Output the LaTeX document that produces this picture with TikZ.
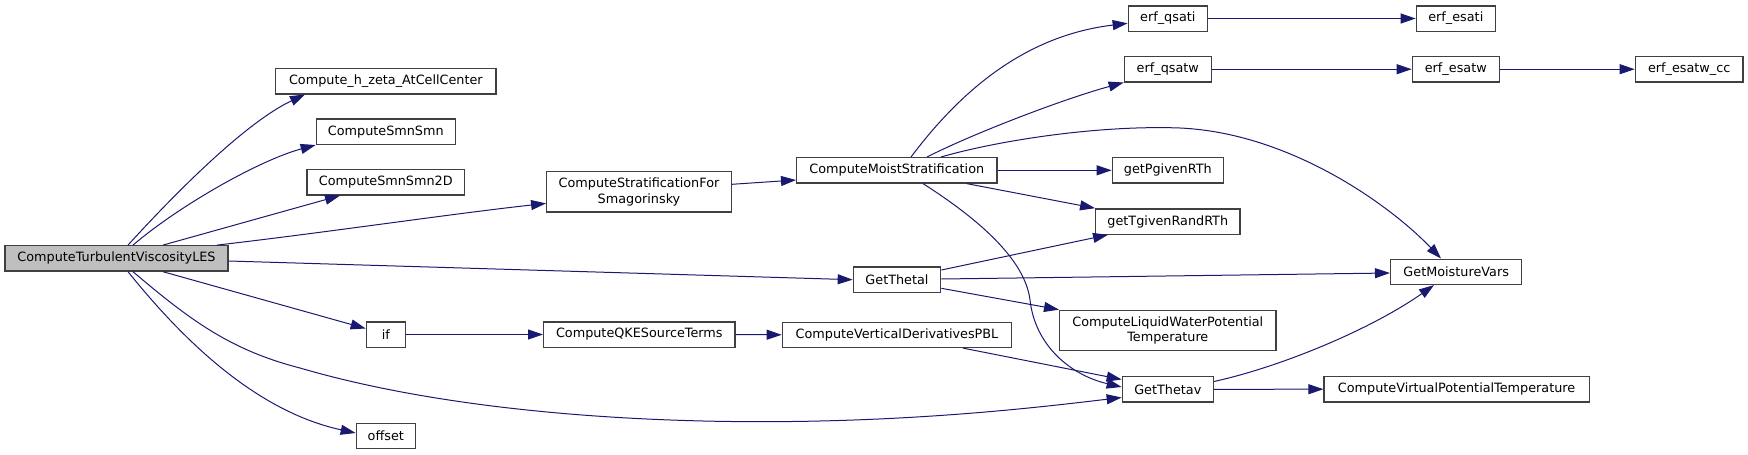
\documentclass[tikz,border=0pt]{standalone}
\usepackage{fontspec}
\setmainfont{DejaVu Sans}
\usetikzlibrary{arrows.meta}
\definecolor{edgeblue}{HTML}{191970}
\definecolor{nodeborder}{HTML}{404040}
\definecolor{rootfill}{HTML}{BFBFBF}
\tikzset{
  fn/.style={draw=nodeborder, line width=1.3pt, fill=white, inner sep=0pt,
    minimum height=25.3pt, align=center,
    font=\fontsize{12.8}{15.4}\selectfont},
  rootfn/.style={fn, fill=rootfill},
  call/.style={draw=edgeblue, line width=1pt,
    -{Triangle[length=15pt,width=10pt]}, fill=none},
}
\begin{document}
\begin{tikzpicture}[x=1pt,y=-1pt]
\useasboundingbox (0,0) rectangle (1748,455);
% nodes
\node[rootfn, minimum width=223pt] (root) at (116.5,258.4) {ComputeTurbulentViscosityLES};
\node[fn, minimum width=220.3pt] (hz) at (385.9,81.2) {Compute\_h\_zeta\_AtCellCenter};
\node[fn, minimum width=139pt] (smn) at (385.8,131.7) {ComputeSmnSmn};
\node[fn, minimum width=157.7pt] (smn2) at (385.8,182.3) {ComputeSmnSmn2D};
\node[fn, minimum width=184.6pt, minimum height=40.3pt] (strat) at (639,191.8) {ComputeStratificationFor\\Smagorinsky};
\node[fn, minimum width=200.3pt] (moist) at (896.8,170.3) {ComputeMoistStratification};
\node[fn, minimum width=79pt] (qsati) at (1167.8,18.5) {erf\_qsati};
\node[fn, minimum width=87pt] (qsatw) at (1167.8,69.2) {erf\_qsatw};
\node[fn, minimum width=111pt] (pgiven) at (1167.8,170.3) {getPgivenRTh};
\node[fn, minimum width=144.2pt] (tgiven) at (1167.8,221.5) {getTgivenRandRTh};
\node[fn, minimum width=216.3pt, minimum height=40pt] (lwpt) at (1167.8,330.3) {ComputeLiquidWaterPotential\\Temperature};
\node[fn, minimum width=91pt] (thetav) at (1167.8,389.3) {GetThetav};
\node[fn, minimum width=79pt] (esati) at (1455.8,18.5) {erf\_esati};
\node[fn, minimum width=87pt] (esatw) at (1455.8,69.2) {erf\_esatw};
\node[fn, minimum width=131.2pt] (mvars) at (1456.2,271.8) {GetMoistureVars};
\node[fn, minimum width=265.1pt] (vpt) at (1456.6,389.2) {ComputeVirtualPotentialTemperature};
\node[fn, minimum width=107.7pt] (esatwcc) at (1689.2,69.2) {erf\_esatw\_cc};
\node[fn, minimum width=87.4pt] (thetal) at (897,279.7) {GetThetal};
\node[fn, minimum width=229.4pt] (vderiv) at (897,334.8) {ComputeVerticalDerivativesPBL};
\node[fn, minimum width=39pt] (iff) at (385.8,334.5) {if};
\node[fn, minimum width=191.3pt] (qke) at (639.3,334.5) {ComputeQKESourceTerms};
\node[fn, minimum width=59pt] (offs) at (385.8,435.8) {offset};
% edges from root
\draw[call] (root.north -| 128,0) .. controls (160,210) and (240,125) .. (hz.south -| 305,0);
\draw[call] (root.north -| 133,0) .. controls (180,205) and (260,160) .. (smn.south west);
\draw[call] (root.north -| 163,0) -- (smn2.south -| 340,0);
\draw[call] (root.north -| 217,0) .. controls (330,232) and (450,214) .. (strat.west |- 0,203.4);
\draw[call] (root.east |- 0,261) -- (thetal.west);
\draw[call] (root.south -| 163,0) -- (iff.west |- 0,328.5);
\draw[call] (root.south -| 133,0) .. controls (190,320) and (230,350) .. (300,368)
   .. controls (450,412) and (650,425) .. (820,421)
   .. controls (950,418) and (1050,406) .. (thetav.west |- 0,397.5);
\draw[call] (root.south -| 128,0) .. controls (175,330) and (250,410) .. (offs.west |- 0,433);
% stratification chain
\draw[call] (strat.east |- 0,184.3) -- (moist.west |- 0,180);
\draw[call] (moist.north -| 911,0) .. controls (965,85) and (1030,35) .. (qsati.west |- 0,23.3);
\draw[call] (moist.north -| 927,0) .. controls (970,135) and (1060,100) .. (qsatw.south west);
\draw[call] (moist.north -| 941,0) .. controls (1000,140) and (1100,125) .. (1180,128)
   .. controls (1290,133) and (1390,205) .. (mvars.north -| 1441,0);
\draw[call] (moist.east) -- (pgiven.west);
\draw[call] (moist.south -| 966.7,0) -- (tgiven.north west);
\draw[call] (moist.south -| 923,0) .. controls (980,220) and (1025,260) .. (1030,300)
   .. controls (1035,345) and (1070,375) .. (thetav.west |- 0,387);
% GetThetal
\draw[call] (thetal.east |- 0,270) -- (tgiven.south -| 1108,0);
\draw[call] (thetal.east |- 0,279) -- (mvars.west |- 0,273);
\draw[call] (thetal.east |- 0,288.3) -- (lwpt.north west);
% if chain
\draw[call] (iff.east) -- (qke.west);
\draw[call] (qke.east) -- (vderiv.west);
\draw[call] (vderiv.south -| 963,0) -- (thetav.west |- 0,379.5);
% GetThetav
\draw[call] (thetav.east |- 0,381.5) .. controls (1280,367) and (1370,330) .. (mvars.south -| 1434,0);
\draw[call] (thetav.east) -- (vpt.west);
% erf chain
\draw[call] (qsati.east) -- (esati.west);
\draw[call] (qsatw.east) -- (esatw.west);
\draw[call] (esatw.east) -- (esatwcc.west);
\end{tikzpicture}
\end{document}
